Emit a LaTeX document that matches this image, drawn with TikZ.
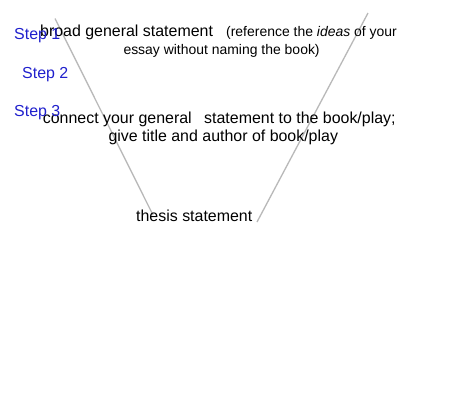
\documentclass[tikz,border=0pt]{standalone}
\usepackage{fontspec}
\setmainfont{Liberation Sans}
\definecolor{stepblue}{RGB}{32,32,205}
\definecolor{linegray}{RGB}{185,185,185}
\begin{document}
\begin{tikzpicture}[x=1bp,y=-1bp,
  big/.style={inner sep=0pt,anchor=base west,font=\fontsize{16}{19}\selectfont},
  small/.style={inner sep=0pt,anchor=base west,font=\fontsize{14}{17}\selectfont},
  steplabel/.style={big,text=stepblue},
  vline/.style={draw=linegray,line width=1.3bp}]
\useasboundingbox[fill=white] (0,0) rectangle (474,411);
\coordinate (lt) at (55,18.5);
\coordinate (lb) at (153,215);
\coordinate (rt) at (368,13);
\coordinate (rb) at (257,222);
\draw[vline] (lt) -- (lb);
\draw[vline] (rt) -- (rb);
\node[big] (broad) at (40,36.7) {broad general statement};
\node[small] (ref) at (226,36.7) {(reference the \textit{ideas} of your};
\node[small] (essay) at (123.3,54) {essay without naming the book)};
\node[big] (connect) at (42.7,123) {connect your general};
\node[big] (stmt) at (204,123) {statement to the book/play;};
\node[big] (give) at (108.3,141.7) {give title and author of book/play};
\node[big] (thesis) at (136,221) {thesis statement};
\node[steplabel] (s1) at (14,39.3) {Step 1};
\node[steplabel] (s2) at (22,78) {Step 2};
\node[steplabel] (s3) at (14,116) {Step 3};
\end{tikzpicture}
\end{document}
